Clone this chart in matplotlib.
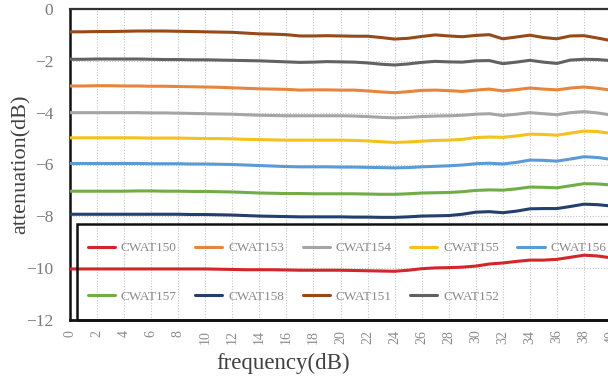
import numpy as np
import matplotlib
matplotlib.use("Agg")
import matplotlib.pyplot as plt
from matplotlib.patches import Rectangle

plt.rcParams['font.family'] = ['Liberation Serif', 'DejaVu Sans']

freq = list(range(0, 41))

cwat150 = [-10.03, -10.03, -10.03, -10.03, -10.03, -10.03, -10.03, -10.03, -10.03, -10.03, -10.03,
           -10.04, -10.05, -10.06, -10.06, -10.06, -10.07, -10.08, -10.08, -10.08, -10.08,
           -10.09, -10.10, -10.11, -10.12, -10.08, -10.02, -9.99, -9.98, -9.96, -9.92,
           -9.84, -9.80, -9.74, -9.69, -9.69, -9.66, -9.58, -9.50, -9.53, -9.60]
cwat151 = [-0.88, -0.88, -0.87, -0.87, -0.86, -0.85, -0.85, -0.85, -0.86, -0.87, -0.88,
           -0.89, -0.90, -0.93, -0.96, -0.97, -0.99, -1.04, -1.04, -1.03, -1.04,
           -1.05, -1.05, -1.10, -1.16, -1.13, -1.06, -1.00, -1.04, -1.07, -1.02,
           -0.99, -1.15, -1.08, -1.01, -1.10, -1.15, -1.04, -1.03, -1.12, -1.22]
cwat152 = [-1.94, -1.94, -1.93, -1.93, -1.93, -1.93, -1.94, -1.95, -1.95, -1.96, -1.96,
           -1.97, -1.98, -1.99, -2.00, -2.02, -2.04, -2.06, -2.05, -2.03, -2.04,
           -2.05, -2.08, -2.13, -2.16, -2.12, -2.06, -2.02, -2.04, -2.05, -2.00,
           -1.99, -2.11, -2.05, -1.98, -2.05, -2.10, -1.97, -1.94, -1.95, -1.99]
cwat153 = [-2.97, -2.97, -2.96, -2.96, -2.97, -2.97, -2.98, -2.98, -2.99, -3.00, -3.01,
           -3.02, -3.04, -3.06, -3.08, -3.09, -3.10, -3.13, -3.12, -3.12, -3.13,
           -3.13, -3.16, -3.20, -3.23, -3.19, -3.14, -3.13, -3.15, -3.18, -3.13,
           -3.09, -3.16, -3.11, -3.05, -3.09, -3.12, -3.05, -3.01, -3.06, -3.13]
cwat154 = [-4.00, -4.00, -4.00, -4.00, -4.00, -4.00, -4.01, -4.01, -4.02, -4.03, -4.04,
           -4.05, -4.06, -4.08, -4.10, -4.11, -4.12, -4.12, -4.12, -4.12, -4.12,
           -4.13, -4.15, -4.18, -4.20, -4.18, -4.15, -4.13, -4.12, -4.10, -4.06,
           -4.04, -4.11, -4.06, -4.00, -4.04, -4.08, -4.00, -3.96, -4.01, -4.09]
cwat155 = [-4.97, -4.97, -4.97, -4.97, -4.97, -4.97, -4.98, -4.98, -4.98, -4.99, -5.00,
           -5.00, -5.01, -5.03, -5.04, -5.05, -5.06, -5.06, -5.06, -5.06, -5.06,
           -5.07, -5.09, -5.12, -5.15, -5.13, -5.10, -5.07, -5.06, -5.03, -4.96,
           -4.94, -4.95, -4.90, -4.83, -4.84, -4.87, -4.79, -4.71, -4.73, -4.80]
cwat156 = [-5.96, -5.96, -5.96, -5.96, -5.96, -5.96, -5.97, -5.97, -5.97, -5.98, -5.98,
           -5.99, -6.00, -6.02, -6.04, -6.06, -6.08, -6.09, -6.09, -6.09, -6.10,
           -6.10, -6.11, -6.12, -6.13, -6.12, -6.09, -6.07, -6.05, -6.02, -5.97,
           -5.95, -5.98, -5.92, -5.83, -5.84, -5.87, -5.79, -5.70, -5.73, -5.80]
cwat157 = [-7.03, -7.03, -7.03, -7.03, -7.03, -7.02, -7.02, -7.03, -7.03, -7.04, -7.04,
           -7.05, -7.06, -7.08, -7.10, -7.11, -7.12, -7.12, -7.13, -7.13, -7.13,
           -7.13, -7.14, -7.15, -7.15, -7.13, -7.10, -7.09, -7.08, -7.05, -7.00,
           -6.98, -6.99, -6.94, -6.87, -6.88, -6.90, -6.82, -6.74, -6.75, -6.79]
cwat158 = [-7.92, -7.92, -7.92, -7.92, -7.92, -7.92, -7.92, -7.92, -7.92, -7.93, -7.93,
           -7.94, -7.95, -7.97, -7.99, -8.00, -8.01, -8.02, -8.02, -8.02, -8.02,
           -8.03, -8.03, -8.04, -8.04, -8.02, -7.99, -7.98, -7.97, -7.92, -7.84,
           -7.82, -7.86, -7.80, -7.71, -7.70, -7.70, -7.62, -7.53, -7.55, -7.60]

series = [
    ("CWAT150", cwat150, "#d4252a"),
    ("CWAT153", cwat153, "#e8843c"),
    ("CWAT154", cwat154, "#a5a5a5"),
    ("CWAT155", cwat155, "#f4c21b"),
    ("CWAT156", cwat156, "#5b9bd5"),
    ("CWAT157", cwat157, "#70ad47"),
    ("CWAT158", cwat158, "#223f6e"),
    ("CWAT151", cwat151, "#97491a"),
    ("CWAT152", cwat152, "#626262"),
]

fig = plt.figure(figsize=(6.08, 3.83), dpi=100)
ax = fig.add_axes([70 / 608, 1 - 320 / 383, 541 / 608, 311 / 383])

lines = {}
for name, vals, col in series:
    ln, = ax.plot(freq, vals, color=col, lw=2.2, label=name, zorder=3,
                  solid_capstyle='round')
    lines[name] = ln

ax.set_xlim(0, 40)
ax.set_ylim(-12, 0)
ax.set_xticks(np.arange(0, 41, 2))
ax.set_yticks(np.arange(-12, 1, 2))
ax.tick_params(axis='x', length=0, pad=7, labelsize=10, labelcolor='#8a8a8a',
               labelrotation=90)
ax.tick_params(axis='y', length=0, pad=12, labelsize=12.5, labelcolor='#7a7a7a')
ax.grid(True, linestyle=(0, (1, 1.5)), color='#c4c4c4', lw=0.8, zorder=0)

ax.spines['right'].set_visible(False)
ax.spines['left'].set_linewidth(1.8)
ax.spines['left'].set_color('#111111')
ax.spines['bottom'].set_linewidth(2)
ax.spines['bottom'].set_color('#111111')
ax.spines['top'].set_linewidth(1.6)
ax.spines['top'].set_color('#333333')

ax.set_xlabel('frequency(dB)', fontsize=16.5, color='#404040')
ax.set_ylabel('attenuation(dB)', fontsize=16, color='#404040')
ax.xaxis.set_label_coords(0.394, -0.105)
ax.yaxis.set_label_coords(-0.072, 0.5)

# legend frame (thick black box, no fill)
ax.add_patch(Rectangle((7 / 541, 0), 1.0, 96 / 311, transform=ax.transAxes,
                       fill=False, edgecolor='#111111', lw=1.8, zorder=5,
                       clip_on=False))

order = ["CWAT150", "CWAT157", "CWAT153", "CWAT158", "CWAT154",
         "CWAT151", "CWAT155", "CWAT152", "CWAT156"]
leg = ax.legend([lines[n] for n in order], order, ncol=5, loc='upper left',
                bbox_to_anchor=(18 / 541, 78 / 311), frameon=False,
                prop={'size': 9.5},
                labelcolor='#8a8a8a', handlelength=2.05, handletextpad=0.45,
                columnspacing=1.4, labelspacing=2.75, borderpad=0,
                borderaxespad=0)

plt.savefig("out.png", dpi=100)
